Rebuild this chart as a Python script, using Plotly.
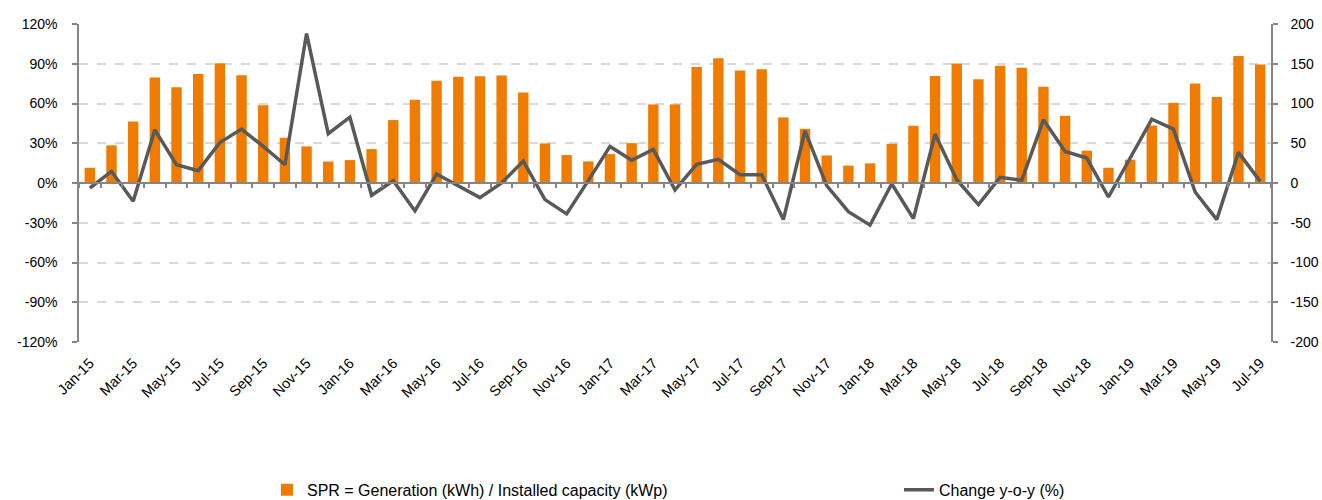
import plotly.graph_objects as go

months = [
    "Jan-15", "Feb-15", "Mar-15", "Apr-15", "May-15", "Jun-15", "Jul-15", "Aug-15", "Sep-15", "Oct-15", "Nov-15", "Dec-15",
    "Jan-16", "Feb-16", "Mar-16", "Apr-16", "May-16", "Jun-16", "Jul-16", "Aug-16", "Sep-16", "Oct-16", "Nov-16", "Dec-16",
    "Jan-17", "Feb-17", "Mar-17", "Apr-17", "May-17", "Jun-17", "Jul-17", "Aug-17", "Sep-17", "Oct-17", "Nov-17", "Dec-17",
    "Jan-18", "Feb-18", "Mar-18", "Apr-18", "May-18", "Jun-18", "Jul-18", "Aug-18", "Sep-18", "Oct-18", "Nov-18", "Dec-18",
    "Jan-19", "Feb-19", "Mar-19", "Apr-19", "May-19", "Jun-19", "Jul-19",
]

# SPR = Generation (kWh) / Installed capacity (kWp), in %
spr = [
    11.5, 28.4, 46.4, 79.6, 72.3, 82.3, 90.4, 81.3, 58.7, 34.1, 27.6, 16.2,
    17.3, 25.6, 47.5, 62.8, 77.1, 80.1, 80.6, 81.1, 68.3, 29.9, 21.1, 16.3,
    21.8, 30.1, 59.3, 59.3, 87.6, 94.1, 84.9, 85.9, 49.5, 40.9, 20.8, 13.1,
    14.8, 29.6, 43.2, 80.8, 90.1, 78.3, 88.4, 86.9, 72.6, 50.7, 24.4, 11.5,
    17.6, 43.4, 60.5, 75.1, 65.0, 95.9, 89.4,
]

# Change y-o-y (%)
yoy = [
    -6.3, 14.6, -23.0, 66.9, 23.0, 15.5, 51.0, 67.8, 46.0, 23.0, 188.0, 62.0,
    82.8, -15.5, 2.9, -35.1, 11.3, -4.0, -18.4, 0.0, 27.6, -20.9, -38.9, 3.0,
    46.0, 28.5, 42.3, -8.8, 23.4, 29.7, 10.5, 10.5, -46.0, 65.7, -3.3, -36.0,
    -53.0, -1.0, -44.8, 61.5, 4.2, -27.2, 7.1, 3.3, 79.5, 39.7, 31.4, -17.6,
    31.4, 80.3, 67.8, -11.3, -46.0, 38.5, 2.1,
]

left_ticks = [-120, -90, -60, -30, 0, 30, 60, 90, 120]
left_labels = ["-120%", "-90%", "-60%", "-30%", "0%", "30%", "60%", "90%", "120%"]
right_ticks = [-200, -150, -100, -50, 0, 50, 100, 150, 200]
right_labels = ["-200", "-150", "-100", "-50", "0", "50", "100", "150", "200"]
label_months = months[::2]

FONT = "Liberation Sans"
AXIS_COLOR = "#868686"
GRID_COLOR = "#D9D9D9"

fig = go.Figure()
fig.add_trace(go.Bar(
    x=months, y=spr, name="SPR = Generation (kWh) / Installed capacity (kWp)",
    marker=dict(color="#EF7B00", line=dict(width=0)),
    xaxis="x", yaxis="y", legend="legend",
))
fig.add_trace(go.Scatter(
    x=months, y=yoy, name="Change y-o-y (%)", mode="lines",
    line=dict(color="#595959", width=3.5),
    xaxis="x2", yaxis="y2", legend="legend2",
))

legend_common = dict(
    orientation="h", yanchor="middle", y=-0.465,
    font=dict(family=FONT, size=16, color="#000000"),
    bgcolor="rgba(0,0,0,0)",
)

fig.update_layout(
    width=1322, height=500,
    margin=dict(l=79, r=51, t=24, b=158, autoexpand=False),
    paper_bgcolor="white", plot_bgcolor="white",
    font=dict(family=FONT, size=13, color="#000000"),
    bargap=0.52,
    showlegend=True,
    legend=dict(x=0.1577, xanchor="left", **legend_common),
    legend2=dict(x=0.6879, xanchor="left", **legend_common),
    xaxis=dict(
        type="category", categoryarray=months, categoryorder="array",
        range=[-0.5, len(months) - 0.5],
        tickmode="array", tickvals=label_months, ticktext=label_months,
        tickangle=-45, ticks="", showline=False, showgrid=False, zeroline=False,
        tickfont=dict(family=FONT, size=14.5), automargin=False,
        ticklabelstandoff=9,
    ),
    xaxis2=dict(
        type="category", categoryarray=months, categoryorder="array",
        range=[-0.5, len(months) - 0.5],
        overlaying="x", anchor="free", position=0.5,
        showticklabels=False, ticks="outside", tickson="boundaries",
        ticklen=4, tickwidth=1.5, tickcolor=AXIS_COLOR, dtick=1,
        showline=True, linecolor=AXIS_COLOR, linewidth=1.5,
        showgrid=False, zeroline=False, automargin=False,
    ),
    yaxis=dict(
        range=[-120, 120], tickmode="array", tickvals=left_ticks, ticktext=left_labels,
        ticks="outside", ticklen=5, tickwidth=1.5, tickcolor=AXIS_COLOR,
        showline=True, linecolor=AXIS_COLOR, linewidth=1.5,
        showgrid=True, gridcolor=GRID_COLOR, gridwidth=1.5, griddash="dash",
        zeroline=False, ticklabelstandoff=12, automargin=False,
        tickfont=dict(family=FONT, size=14),
    ),
    yaxis2=dict(
        range=[-200, 200], tickmode="array", tickvals=right_ticks, ticktext=right_labels,
        overlaying="y", side="right", anchor="x",
        ticks="outside", ticklen=5, tickwidth=1.5, tickcolor=AXIS_COLOR,
        showline=True, linecolor=AXIS_COLOR, linewidth=1.5,
        showgrid=False, zeroline=False, ticklabelstandoff=10, automargin=False,
        tickfont=dict(family=FONT, size=14),
    ),
)

fig.write_html(
    "out.html",
    config={"displayModeBar": False},
    post_script="document.body.style.margin='0';document.body.style.padding='0';",
)
